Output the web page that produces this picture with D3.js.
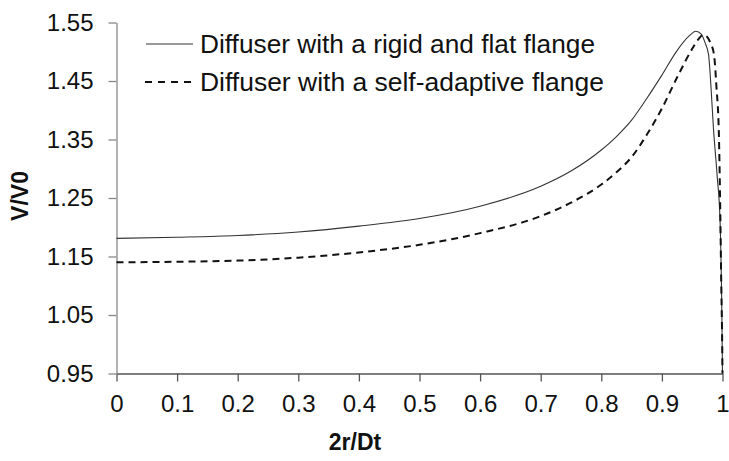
<!DOCTYPE html>
<html><head><meta charset="utf-8">
<script src="https://cdn.jsdelivr.net/npm/d3@7"></script>
<style>body{margin:0;background:#fff;} text{font-family:"Liberation Sans",Arial,sans-serif;}</style>
</head><body><svg id="c" width="729" height="461"></svg>
<script>
const seriesNames = ["Diffuser with a rigid and flat flange", "Diffuser with a self-adaptive flange"];
const rigidX = [0, 0.1, 0.2, 0.3, 0.4, 0.5, 0.6, 0.7, 0.75, 0.8, 0.825, 0.85, 0.875, 0.9, 0.925, 0.945, 0.956, 0.965, 0.971, 0.977, 0.981, 0.985, 0.991, 0.996, 0.999, 1.0];
const rigidY = [1.181, 1.183, 1.186, 1.192, 1.202, 1.215, 1.236, 1.27, 1.296, 1.332, 1.355, 1.383, 1.42, 1.46, 1.502, 1.527, 1.535, 1.53, 1.516, 1.495, 1.44, 1.37, 1.29, 1.21, 1.046, 0.95];
const adaptX = [0, 0.1, 0.2, 0.3, 0.4, 0.5, 0.6, 0.7, 0.75, 0.8, 0.825, 0.85, 0.875, 0.9, 0.925, 0.95, 0.96, 0.968, 0.975, 0.98, 0.986, 0.99, 0.994, 0.996, 0.998, 0.9995, 1.0];
const adaptY = [1.14, 1.141, 1.143, 1.148, 1.157, 1.17, 1.19, 1.219, 1.242, 1.273, 1.294, 1.32, 1.358, 1.403, 1.456, 1.505, 1.521, 1.529, 1.525, 1.515, 1.495, 1.44, 1.36, 1.25, 1.10, 1.0, 0.95];
const xTicks = [0, 0.1, 0.2, 0.3, 0.4, 0.5, 0.6, 0.7, 0.8, 0.9, 1];
const yTicks = [0.95, 1.05, 1.15, 1.25, 1.35, 1.45, 1.55];

const svg = d3.select("#c");
const x = d3.scaleLinear().domain([0, 1]).range([116.5, 722.5]);
const y = d3.scaleLinear().domain([0.95, 1.55]).range([373.5, 22.5]);

const gx = svg.append("g").attr("transform", "translate(0,373.5)")
  .call(d3.axisBottom(x).tickValues(xTicks).tickFormat(d => d === 0 ? "0" : d === 1 ? "1" : d3.format(".1f")(d)).tickSize(8).tickPadding(13).tickSizeOuter(0));
gx.select(".domain").attr("stroke", "#555").attr("stroke-width", 1.3);
gx.selectAll(".tick line").attr("stroke", "#555").attr("stroke-width", 1.3);
gx.selectAll("text").attr("font-size", 24).attr("fill", "#111").attr("font-family", "Liberation Sans, Arial, sans-serif");

const gy = svg.append("g").attr("transform", "translate(116.5,0)")
  .call(d3.axisLeft(y).tickValues(yTicks).tickFormat(d3.format(".2f")).tickSize(8).tickPadding(15).tickSizeOuter(0));
gy.select(".domain").attr("stroke", "#888").attr("stroke-width", 1.3);
gy.selectAll(".tick line").attr("stroke", "#888").attr("stroke-width", 1.3);
gy.selectAll("text").attr("font-size", 24).attr("fill", "#111").attr("font-family", "Liberation Sans, Arial, sans-serif");

const line = d3.line().x(d => x(d[0])).y(d => y(d[1])).curve(d3.curveMonotoneX);
svg.append("path").datum(rigidX.map((v, i) => [v, rigidY[i]]))
  .attr("d", line).attr("fill", "none").attr("stroke", "#333").attr("stroke-width", 1.1);
svg.append("path").datum(adaptX.map((v, i) => [v, adaptY[i]]))
  .attr("d", line).attr("fill", "none").attr("stroke", "#111").attr("stroke-width", 2).attr("stroke-dasharray", "7,5");

// legend
const leg = svg.append("g");
leg.append("line").attr("x1", 146).attr("x2", 193).attr("y1", 44).attr("y2", 44).attr("stroke", "#333").attr("stroke-width", 1.1);
leg.append("line").attr("x1", 145).attr("x2", 192).attr("y1", 82).attr("y2", 82).attr("stroke", "#111").attr("stroke-width", 2).attr("stroke-dasharray", "7,6");
leg.append("text").attr("x", 200).attr("y", 52.5).attr("font-size", 25).attr("fill", "#111")
  .attr("textLength", 395).attr("lengthAdjust", "spacingAndGlyphs").text(seriesNames[0]);
leg.append("text").attr("x", 200).attr("y", 90.5).attr("font-size", 25).attr("fill", "#111")
  .attr("textLength", 404).attr("lengthAdjust", "spacingAndGlyphs").text(seriesNames[1]);

// axis titles
svg.append("text").attr("transform", "translate(28,196) rotate(-90)").attr("text-anchor", "middle")
  .attr("font-size", 23).attr("font-weight", "bold").attr("fill", "#111").text("V/V0");
svg.append("text").attr("x", 355).attr("y", 450).attr("text-anchor", "middle")
  .attr("font-size", 23).attr("font-weight", "bold").attr("fill", "#111").text("2r/Dt");
</script></body></html>
